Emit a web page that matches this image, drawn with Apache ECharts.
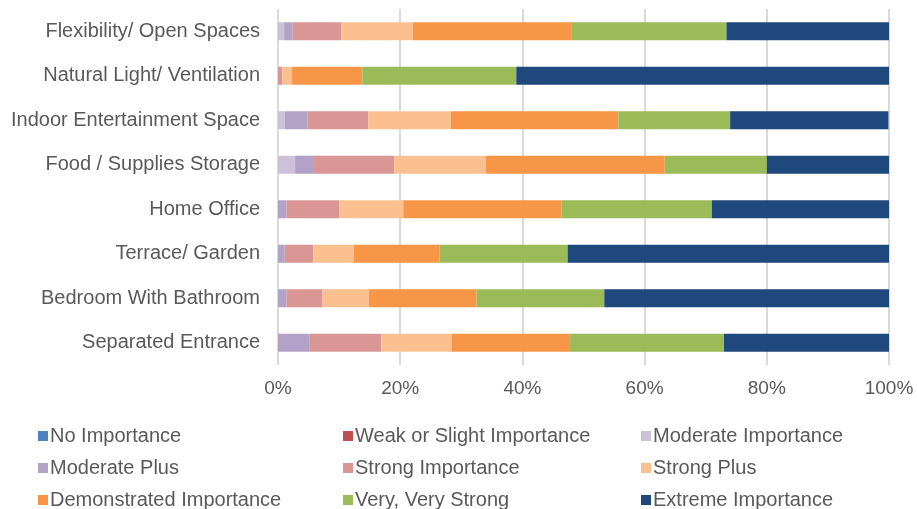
<!DOCTYPE html>
<html><head><meta charset="utf-8">
<script src="https://cdn.jsdelivr.net/npm/echarts@6/dist/echarts.min.js"></script>
<style>html,body{margin:0;padding:0;background:#fff}#c{width:917px;height:509px}</style>
</head><body><div id="c"></div>
<script>
const categories = ["Flexibility/ Open Spaces","Natural Light/ Ventilation","Indoor Entertainment Space","Food / Supplies Storage","Home Office","Terrace/ Garden","Bedroom With Bathroom","Separated Entrance"];
const seriesNames = ["No Importance","Weak or Slight Importance","Moderate Importance","Moderate Plus","Strong Importance","Strong Plus","Demonstrated Importance","Very, Very Strong","Extreme Importance"];
const noImportance   = [0,0,0,0,0,0,0,0];
const weakImportance = [0,0,0,0,0,0,0,0];
const moderateImportance = [1.0,0,1.1,2.8,0,0,0,0];
const moderatePlus   = [1.4,0,3.7,3.1,1.4,1.1,1.4,5.2];
const strongImportance = [8.0,0.7,10.0,13.1,8.6,4.7,5.9,11.7];
const strongPlus     = [11.7,1.6,13.5,15.0,10.5,6.6,7.6,11.5];
const demonstrated   = [26.0,11.5,27.4,29.3,25.9,14.0,17.6,19.4];
const veryVeryStrong = [25.3,25.2,18.3,16.7,24.6,21.0,20.9,25.2];
const extreme        = [26.6,61.0,25.9,20.0,29.0,52.6,46.6,27.0];
const xTicks = ["0%","20%","40%","60%","80%","100%"];

const values = [noImportance,weakImportance,moderateImportance,moderatePlus,strongImportance,strongPlus,demonstrated,veryVeryStrong,extreme];
const colors = ["#4F81BD","#C0504D","#CCC1DA","#B3A2C7","#D99694","#FAC090","#F79646","#9BBB59","#1F497D"];
const font = "'Liberation Sans', Arial, sans-serif";
const chart = echarts.init(document.getElementById('c'));
const legendCol = (idx, left) => ({
  orient: 'vertical', left: left, top: 421, height: 100, itemWidth: 10, itemHeight: 10, itemGap: 12,
  icon: 'rect', data: idx.map(i => seriesNames[i]),
  textStyle: {fontFamily: font, fontSize: 20, color: '#595959', lineHeight: 20, padding: [0,0,0,-3]}
});
chart.setOption({
  animation: false,
  color: colors,
  grid: {left: 278, right: 28, top: 9, bottom: 144},
  xAxis: {type: 'value', min: 0, max: 100, interval: 20,
    axisLabel: {formatter: v => xTicks[v/20], fontFamily: font, fontSize: 19, color: '#595959', margin: 14},
    splitLine: {lineStyle: {color: '#d9d9d9', width: 2}}, axisLine: {show: false}, axisTick: {show: false}},
  yAxis: {type: 'category', data: categories, inverse: true,
    axisLabel: {fontFamily: font, fontSize: 20, color: '#595959', margin: 18},
    axisLine: {show: false}, axisTick: {show: false}},
  legend: [legendCol([0,3,6], 33), legendCol([1,4,7], 338), legendCol([2,5,8], 636)],
  series: seriesNames.map((n, i) => ({
    name: n, type: 'bar', stack: 'a', data: values[i], barWidth: 18,
    itemStyle: {color: colors[i]}
  }))
});
</script></body></html>
